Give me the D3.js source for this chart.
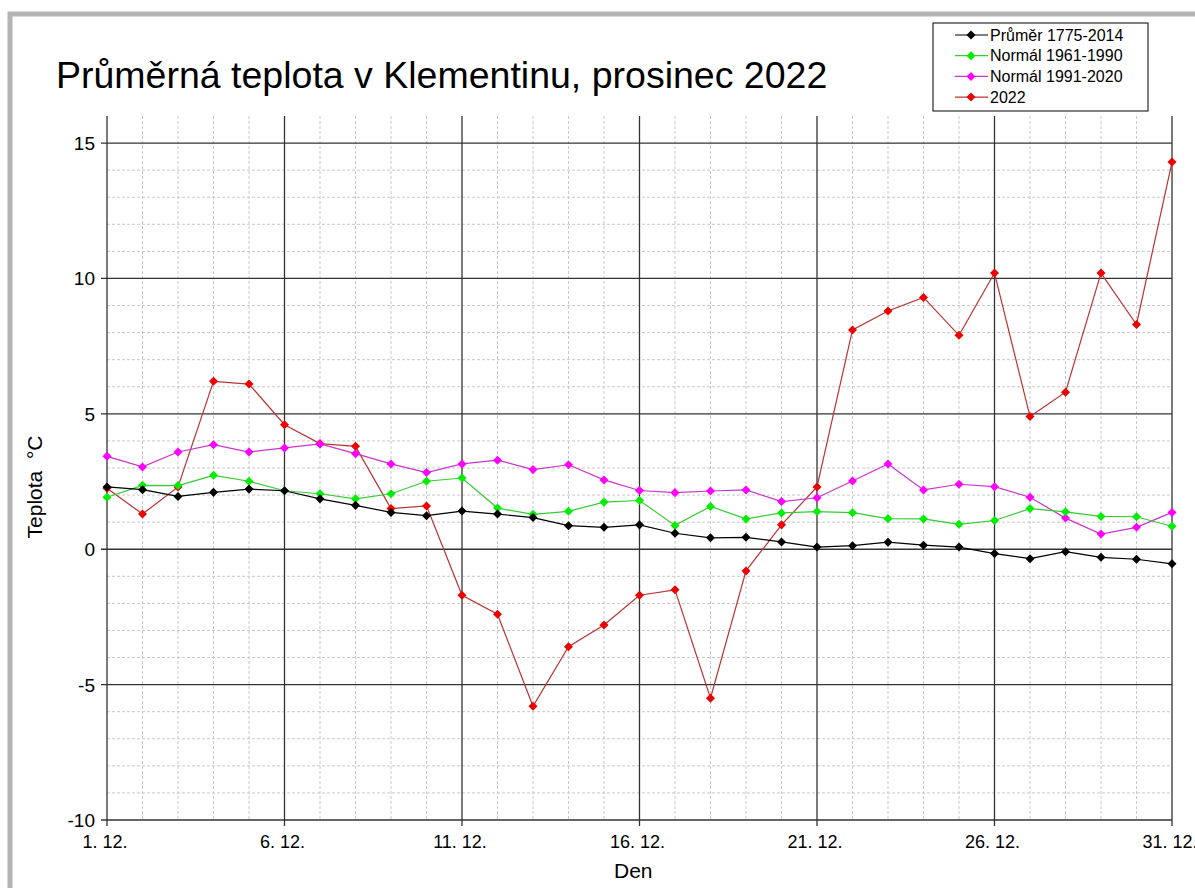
<html>
<head>
    <script src="https://cdnjs.cloudflare.com/ajax/libs/d3/7.8.5/d3.min.js"></script>
    <style>
        body { margin: 0; background: #fff; }
        text { font-family: "Liberation Sans", Arial, sans-serif; fill: #000; }
    </style>
</head>
<body>
    <script>
        var days = d3.range(1, 32);

        var prumer = [2.3, 2.2, 1.95, 2.1, 2.22, 2.16, 1.86, 1.62, 1.36, 1.24, 1.41, 1.3, 1.17, 0.87, 0.81, 0.9,
            0.59, 0.42, 0.44, 0.27, 0.08, 0.13, 0.26, 0.15, 0.08, -0.16, -0.35, -0.09, -0.3, -0.37, -0.54];
        var normal6190 = [1.92, 2.36, 2.35, 2.73, 2.51, 2.16, 2.05, 1.86, 2.05, 2.51, 2.63, 1.52, 1.29, 1.4, 1.74, 1.8,
            0.88, 1.58, 1.12, 1.34, 1.39, 1.35, 1.13, 1.12, 0.92, 1.06, 1.5, 1.38, 1.21, 1.2, 0.85];
        var normal9120 = [3.43, 3.04, 3.59, 3.86, 3.59, 3.74, 3.89, 3.53, 3.15, 2.83, 3.15, 3.29, 2.94, 3.12, 2.56, 2.17,
            2.09, 2.15, 2.19, 1.76, 1.9, 2.52, 3.15, 2.19, 2.4, 2.31, 1.92, 1.15, 0.56, 0.81, 1.36];
        var rok2022 = [2.25, 1.3, 2.3, 6.2, 6.1, 4.6, 3.9, 3.8, 1.5, 1.6, -1.7, -2.4, -5.8, -3.6, -2.8, -1.7,
            -1.5, -5.5, -0.8, 0.9, 2.3, 8.1, 8.8, 9.3, 7.9, 10.2, 4.9, 5.8, 10.2, 8.3, 14.3];

        var seriesNames = ["Průměr 1775-2014", "Normál 1961-1990", "Normál 1991-2020", "2022"];
        var markerColors = ["#000000", "#00ee00", "#ff00ff", "#ee0000"];
        var lineColors = ["#000000", "#33cc33", "#cc33cc", "#bb3333"];
        var yTicks = [-10, -5, 0, 5, 10, 15];
        var xTicks = [1, 6, 11, 16, 21, 26, 31];

        var w = 1195, h = 888;
        var plotLeft = 107, plotRight = 1172, plotTop = 116, plotBottom = 820;

        var svg = d3.select("body").append("svg")
            .attr("width", w)
            .attr("height", h);

        // grey frame of the original picture
        svg.append("rect")
            .attr("x", 10).attr("y", 14)
            .attr("width", w + 20).attr("height", h + 20)
            .attr("fill", "none")
            .attr("stroke", "#b4b4b4")
            .attr("stroke-width", 5);

        var x = d3.scaleLinear().domain([1, 31]).range([plotLeft, plotRight]);
        var y = d3.scaleLinear().domain([-10, 16]).range([plotBottom, plotTop]);

        // minor grid
        var g = svg.append("g");
        g.selectAll(".vminor")
            .data(days.filter(function (d) { return (d - 1) % 5 !== 0; }))
            .enter().append("line")
            .attr("x1", function (d) { return x(d); })
            .attr("x2", function (d) { return x(d); })
            .attr("y1", plotTop).attr("y2", plotBottom)
            .attr("stroke", "#c8c8c8")
            .attr("stroke-dasharray", "3,2");

        g.selectAll(".hminor")
            .data(d3.range(-9, 16).filter(function (d) { return d % 5 !== 0; }))
            .enter().append("line")
            .attr("x1", plotLeft).attr("x2", plotRight)
            .attr("y1", function (d) { return y(d); })
            .attr("y2", function (d) { return y(d); })
            .attr("stroke", "#c8c8c8")
            .attr("stroke-dasharray", "3,2");

        // major grid
        g.selectAll(".vmajor")
            .data(xTicks)
            .enter().append("line")
            .attr("x1", function (d) { return x(d); })
            .attr("x2", function (d) { return x(d); })
            .attr("y1", plotTop).attr("y2", plotBottom + 6)
            .attr("stroke", "#333")
            .attr("stroke-width", 1.3);

        g.selectAll(".hmajor")
            .data(yTicks)
            .enter().append("line")
            .attr("x1", plotLeft - 6).attr("x2", plotRight)
            .attr("y1", function (d) { return y(d); })
            .attr("y2", function (d) { return y(d); })
            .attr("stroke", "#333")
            .attr("stroke-width", 1.3);

        // tick labels
        svg.selectAll(".ylab")
            .data(yTicks)
            .enter().append("text")
            .attr("x", 95)
            .attr("y", function (d) { return y(d) + 7; })
            .attr("text-anchor", "end")
            .style("font-size", "19px")
            .text(function (d) { return d; });

        svg.selectAll(".xlab")
            .data(xTicks)
            .enter().append("text")
            .attr("x", function (d) { return x(d) - 2; })
            .attr("y", 848)
            .attr("text-anchor", "middle")
            .style("font-size", "18px")
            .text(function (d) { return d + ". 12."; });

        svg.append("text")
            .attr("x", 614).attr("y", 878)
            .style("font-size", "21px")
            .text("Den");

        svg.append("text")
            .attr("transform", "translate(42,487) rotate(-90)")
            .attr("text-anchor", "middle")
            .style("font-size", "21px")
            .style("white-space", "pre")
            .text("Teplota  °C");

        svg.append("text")
            .attr("x", 56).attr("y", 88)
            .style("font-size", "37.5px")
            .text("Průměrná teplota v Klementinu, prosinec 2022");

        // series, drawn from last to first so black ends on top
        var all = [prumer, normal6190, normal9120, rok2022];
        var line = d3.line()
            .x(function (d, i) { return x(days[i]); })
            .y(function (d) { return y(d); });
        var diamond = d3.symbol().type(d3.symbolDiamond2).size(52);

        for (var s = all.length - 1; s >= 0; s--) {
            var sg = svg.append("g");
            sg.append("path")
                .datum(all[s])
                .attr("d", line)
                .attr("fill", "none")
                .attr("stroke", lineColors[s])
                .attr("stroke-width", 1.2);
            sg.selectAll("path.m")
                .data(all[s])
                .enter().append("path")
                .attr("class", "m")
                .attr("d", diamond)
                .attr("transform", function (d, i) { return "translate(" + x(days[i]) + "," + y(d) + ")"; })
                .attr("fill", markerColors[s]);
        }

        // legend
        var lg = svg.append("g").attr("transform", "translate(933,23)");
        lg.append("rect")
            .attr("width", 215).attr("height", 88)
            .attr("fill", "#fff")
            .attr("stroke", "#000");
        var items = lg.selectAll(".item")
            .data(seriesNames)
            .enter().append("g")
            .attr("transform", function (d, i) { return "translate(0," + (12 + i * 20.7) + ")"; });
        items.append("line")
            .attr("x1", 22).attr("x2", 55)
            .attr("stroke", function (d, i) { return lineColors[i]; })
            .attr("stroke-width", 1.2);
        items.append("path")
            .attr("d", diamond)
            .attr("transform", "translate(38,0)")
            .attr("fill", function (d, i) { return markerColors[i]; });
        items.append("text")
            .attr("x", 57).attr("y", 5.5)
            .style("font-size", "16px")
            .text(function (d) { return d; });
    </script>
</body>
</html>
